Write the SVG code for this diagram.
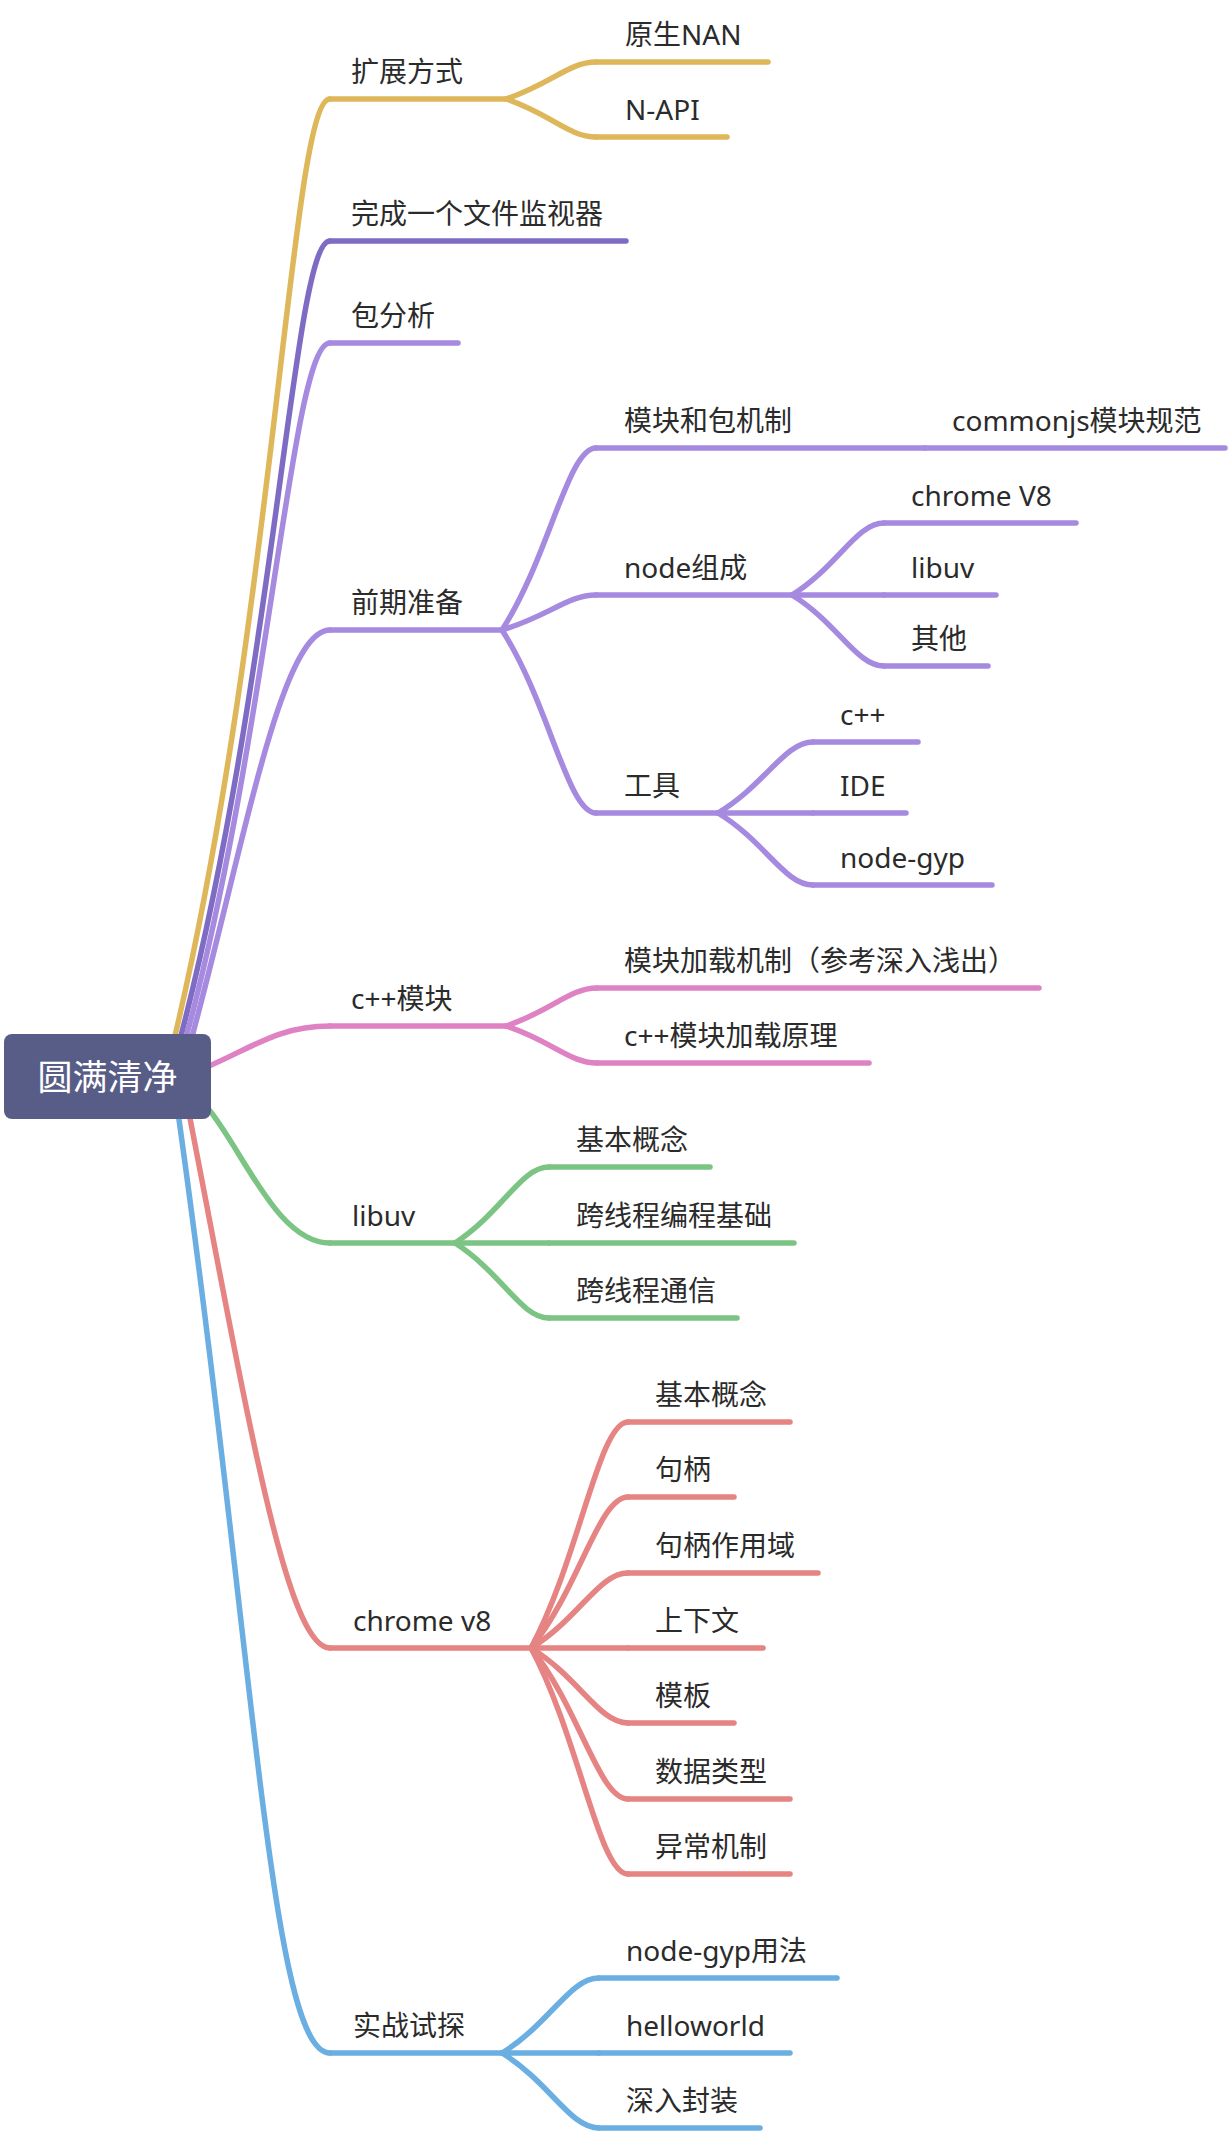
<svg xmlns="http://www.w3.org/2000/svg" width="1228" height="2136" viewBox="0 0 1228 2136">
<style>
.t{font-family:"Noto Sans","Noto Sans CJK SC",sans-serif;font-size:28px;fill:#2b2b2b}
.rt{font-family:"Noto Sans","Noto Sans CJK SC",sans-serif;font-size:35px;fill:#ffffff}
.l{fill:none;stroke-width:5.5;stroke-linecap:round}
.gold{stroke:#DEB75B}.dp{stroke:#7E6CC4}.lp{stroke:#A58AE0}.pk{stroke:#DE82C4}.gr{stroke:#7CC484}.rd{stroke:#E68383}.bl{stroke:#6AAEE2}
</style>
<rect width="1228" height="2136" fill="#ffffff"/>
<g id="connectors">
<path class="l gold" d="M165,1077 C275,640 290,99 330,99"/>
<path class="l dp" d="M170,1077 C275,700 292,241 330,241"/>
<path class="l lp" d="M175,1077 C268,760 290,343 330,343"/>
<path class="l lp" d="M181,1077 C240,870 278,630 330,630"/>
<path class="l pk" d="M175,1080 C245,1055 270,1026 330,1026"/>
<path class="l gr" d="M180,1085 C230,1105 265,1243 330,1243"/>
<path class="l rd" d="M182,1077 C245,1400 285,1648 330,1648"/>
<path class="l bl" d="M173,1077 C255,1650 270,2053 330,2053"/>
<path class="l gold" d="M506,99 C551,84.2 569,62 596,62"/>
<path class="l gold" d="M506,99 C551,114.2 569,137 596,137"/>
<path class="l lp" d="M502,630 C549,557.2 567.8,448 596,448"/>
<path class="l lp" d="M502,630 C549,616 567.8,595 596,595"/>
<path class="l lp" d="M502,630 C549,703.2 567.8,813 596,813"/>
<path class="l lp" d="M792,595 C838,566.2 856.4,523 884,523"/>
<path class="l lp" d="M792,595 L884,595"/>
<path class="l lp" d="M792,595 C838,623.4 856.4,666 884,666"/>
<path class="l lp" d="M718,813 C765.5,784.6 784.5,742 813,742"/>
<path class="l lp" d="M718,813 L813,813"/>
<path class="l lp" d="M718,813 C765.5,841.8 784.5,885 813,885"/>
<path class="l pk" d="M506,1026 C551.5,1010.8 569.7,988 597,988"/>
<path class="l pk" d="M506,1026 C551.5,1040.8 569.7,1063 597,1063"/>
<path class="l gr" d="M455,1243 C502,1212.6 520.8,1167 549,1167"/>
<path class="l gr" d="M455,1243 L549,1243"/>
<path class="l gr" d="M455,1243 C502,1273 520.8,1318 549,1318"/>
<path class="l rd" d="M531,1648 C579.5,1557.6 598.9,1422 628,1422"/>
<path class="l rd" d="M531,1648 C579.5,1587.6 598.9,1497 628,1497"/>
<path class="l rd" d="M531,1648 C579.5,1618 598.9,1573 628,1573"/>
<path class="l rd" d="M531,1648 L628,1648"/>
<path class="l rd" d="M531,1648 C579.5,1678 598.9,1723 628,1723"/>
<path class="l rd" d="M531,1648 C579.5,1708.4 598.9,1799 628,1799"/>
<path class="l rd" d="M531,1648 C579.5,1738.4 598.9,1874 628,1874"/>
<path class="l bl" d="M502,2053 C550.5,2023 569.9,1978 599,1978"/>
<path class="l bl" d="M502,2053 L599,2053"/>
<path class="l bl" d="M502,2053 C550.5,2083 569.9,2128 599,2128"/>
</g>
<g id="root"><rect x="4" y="1034" width="207" height="85" rx="8" fill="#575D86"/><text class="rt" x="107.5" y="1090" text-anchor="middle">圆满清净</text></g>
<g id="n1"><path class="l gold" d="M330,99 H506"/><text class="t" x="351" y="82">扩展方式</text></g>
<g id="n1a"><path class="l gold" d="M596,62 H768"/><text class="t" x="625" y="45">原生NAN</text></g>
<g id="n1b"><path class="l gold" d="M596,137 H727"/><text class="t" x="625" y="120">N-API</text></g>
<g id="n2"><path class="l dp" d="M330,241 H626"/><text class="t" x="351" y="224">完成一个文件监视器</text></g>
<g id="n3"><path class="l lp" d="M330,343 H458"/><text class="t" x="351" y="326">包分析</text></g>
<g id="n4"><path class="l lp" d="M330,630 H502"/><text class="t" x="351" y="613">前期准备</text></g>
<g id="n4a"><path class="l lp" d="M596,448 H925"/><text class="t" x="624" y="431">模块和包机制</text></g>
<g id="n4a1"><path class="l lp" d="M925,448 H1225"/><text class="t" x="952" y="431">commonjs模块规范</text></g>
<g id="n4b"><path class="l lp" d="M596,595 H792"/><text class="t" x="624" y="578">node组成</text></g>
<g id="n4b1"><path class="l lp" d="M884,523 H1076"/><text class="t" x="911" y="506">chrome V8</text></g>
<g id="n4b2"><path class="l lp" d="M884,595 H996"/><text class="t" x="911" y="578">libuv</text></g>
<g id="n4b3"><path class="l lp" d="M884,666 H988"/><text class="t" x="911" y="649">其他</text></g>
<g id="n4c"><path class="l lp" d="M596,813 H718"/><text class="t" x="624" y="796">工具</text></g>
<g id="n4c1"><path class="l lp" d="M813,742 H918"/><text class="t" x="840" y="725">c++</text></g>
<g id="n4c2"><path class="l lp" d="M813,813 H906"/><text class="t" x="840" y="796">IDE</text></g>
<g id="n4c3"><path class="l lp" d="M813,885 H992"/><text class="t" x="840" y="868">node-gyp</text></g>
<g id="n5"><path class="l pk" d="M330,1026 H506"/><text class="t" x="351" y="1009">c++模块</text></g>
<g id="n5a"><path class="l pk" d="M597,988 H1039"/><text class="t" x="624" y="971">模块加载机制（参考深入浅出）</text></g>
<g id="n5b"><path class="l pk" d="M597,1063 H869"/><text class="t" x="624" y="1046">c++模块加载原理</text></g>
<g id="n6"><path class="l gr" d="M330,1243 H455"/><text class="t" x="352" y="1226">libuv</text></g>
<g id="n6a"><path class="l gr" d="M549,1167 H710"/><text class="t" x="576" y="1150">基本概念</text></g>
<g id="n6b"><path class="l gr" d="M549,1243 H794"/><text class="t" x="576" y="1226">跨线程编程基础</text></g>
<g id="n6c"><path class="l gr" d="M549,1318 H737"/><text class="t" x="576" y="1301">跨线程通信</text></g>
<g id="n7"><path class="l rd" d="M330,1648 H531"/><text class="t" x="353" y="1631">chrome v8</text></g>
<g id="n7a"><path class="l rd" d="M628,1422 H790"/><text class="t" x="655" y="1405">基本概念</text></g>
<g id="n7b"><path class="l rd" d="M628,1497 H734"/><text class="t" x="655" y="1480">句柄</text></g>
<g id="n7c"><path class="l rd" d="M628,1573 H818"/><text class="t" x="655" y="1556">句柄作用域</text></g>
<g id="n7d"><path class="l rd" d="M628,1648 H763"/><text class="t" x="655" y="1631">上下文</text></g>
<g id="n7e"><path class="l rd" d="M628,1723 H734"/><text class="t" x="655" y="1706">模板</text></g>
<g id="n7f"><path class="l rd" d="M628,1799 H790"/><text class="t" x="655" y="1782">数据类型</text></g>
<g id="n7g"><path class="l rd" d="M628,1874 H790"/><text class="t" x="655" y="1857">异常机制</text></g>
<g id="n8"><path class="l bl" d="M330,2053 H502"/><text class="t" x="353" y="2036">实战试探</text></g>
<g id="n8a"><path class="l bl" d="M599,1978 H837"/><text class="t" x="626" y="1961">node-gyp用法</text></g>
<g id="n8b"><path class="l bl" d="M599,2053 H790"/><text class="t" x="626" y="2036">helloworld</text></g>
<g id="n8c"><path class="l bl" d="M599,2128 H760"/><text class="t" x="626" y="2111">深入封装</text></g>
</svg>
